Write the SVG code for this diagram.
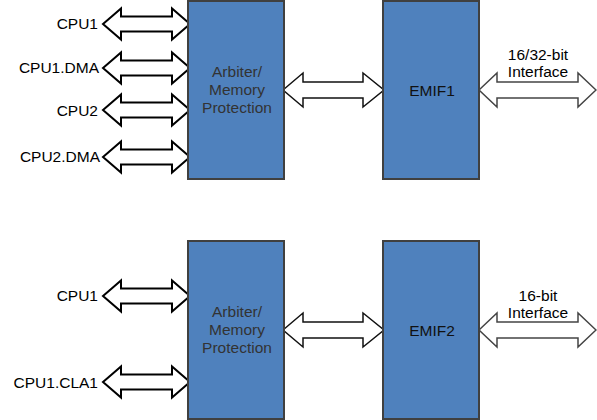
<svg xmlns="http://www.w3.org/2000/svg" width="597" height="420" viewBox="0 0 597 420">
<style>
.box{fill:#4F81BD;stroke:#404040;stroke-width:2}
.arr{fill:#fff;stroke:#000;stroke-width:2;stroke-linejoin:miter}
.arr2{fill:#fff;stroke:#111;stroke-width:1.5}
.arr3{fill:#fff;stroke:#444;stroke-width:1.5}
text{font-family:"Liberation Sans",Arial,sans-serif;font-size:15.5px}
.lbl{text-anchor:end;fill:#000}
.arb{text-anchor:middle;fill:#333}
.emif{text-anchor:middle;fill:#111}
.ifc{text-anchor:middle;fill:#000}
</style>
<defs>
<path id="la" d="M103,0 L121,-15.5 L121,-7.5 L172,-7.5 L172,-15.5 L190,0 L172,15.5 L172,7.5 L121,7.5 L121,15.5 Z"/>
<path id="ma" d="M283,0 L303,-17 L303,-8 L363,-8 L363,-17 L384,0 L363,17 L363,8 L303,8 L303,17 Z"/>
<path id="ra" d="M479,0 L497,-17 L497,-8 L578,-8 L578,-17 L596,0 L578,17 L578,8 L497,8 L497,17 Z"/>
</defs>
<g id="connectors">
<use href="#la" class="arr" transform="translate(0,24)"/>
<use href="#la" class="arr" transform="translate(0,68)"/>
<use href="#la" class="arr" transform="translate(0,110)"/>
<use href="#la" class="arr" transform="translate(0,157)"/>
<use href="#ma" class="arr2" transform="translate(0,90)"/>
<use href="#ra" class="arr3" transform="translate(0,90)"/>
<use href="#la" class="arr" transform="translate(0,296)"/>
<use href="#la" class="arr" transform="translate(0,382)"/>
<use href="#ma" class="arr2" transform="translate(0,330)"/>
<use href="#ra" class="arr3" transform="translate(0,330)"/>
</g>
<g id="labels">
<text class="lbl" x="98" y="29">CPU1</text>
<text class="lbl" x="99" y="73">CPU1.DMA</text>
<text class="lbl" x="98" y="116">CPU2</text>
<text class="lbl" x="100" y="162">CPU2.DMA</text>
<text class="lbl" x="98" y="301">CPU1</text>
<text class="lbl" x="98" y="388">CPU1.CLA1</text>
<text class="ifc" x="538" y="60">16/32-bit</text>
<text class="ifc" x="538" y="77">Interface</text>
<text class="ifc" x="538" y="301">16-bit</text>
<text class="ifc" x="538" y="318">Interface</text>
</g>
<g id="arbiter1">
<rect class="box" x="188" y="1" width="96" height="178"/>
<text class="arb" x="237" y="77">Arbiter/</text>
<text class="arb" x="237" y="95">Memory</text>
<text class="arb" x="237" y="113">Protection</text>
</g>
<g id="emif1">
<rect class="box" x="383" y="1" width="96" height="178"/>
<text class="emif" x="432" y="96">EMIF1</text>
</g>
<g id="arbiter2">
<rect class="box" x="188" y="241" width="96" height="178"/>
<text class="arb" x="237" y="317">Arbiter/</text>
<text class="arb" x="237" y="335">Memory</text>
<text class="arb" x="237" y="353">Protection</text>
</g>
<g id="emif2">
<rect class="box" x="383" y="241" width="96" height="178"/>
<text class="emif" x="432" y="336">EMIF2</text>
</g>
</svg>
